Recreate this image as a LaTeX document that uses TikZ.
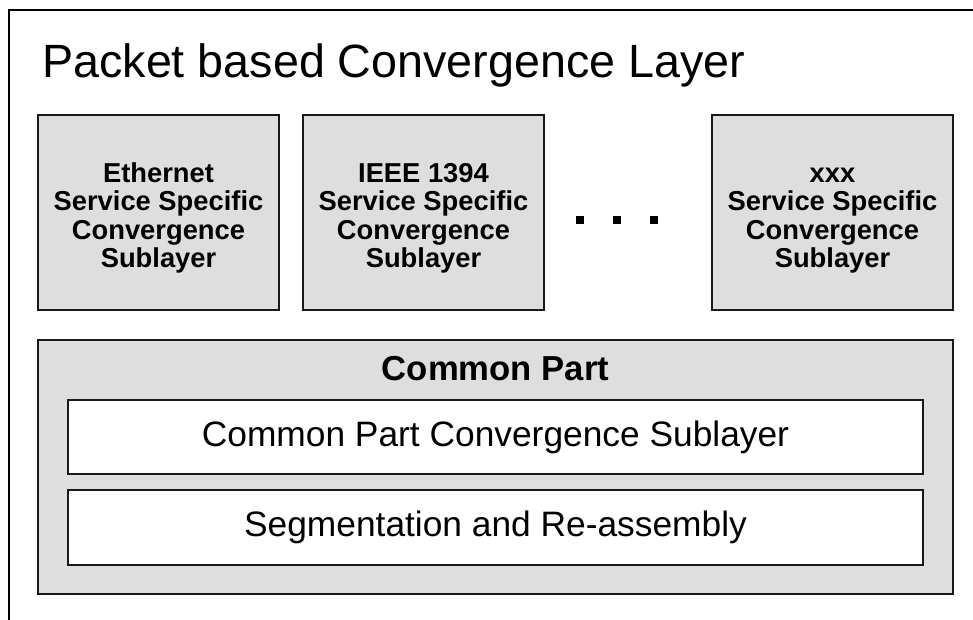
\documentclass[tikz,border=0pt]{standalone}
\usepackage{fontspec}
\setmainfont{Liberation Sans}
\begin{document}
\begin{tikzpicture}[x=0.75pt, y=-0.75pt,
  ssbox/.style={draw=black!90, line width=1.5pt, fill=black!13, rectangle, minimum width=180.75pt, minimum height=146.25pt, inner sep=0pt},
  sstext/.style={align=center, inner sep=0pt, font=\fontsize{20.5}{21.3}\selectfont\bfseries},
  cpbox/.style={draw=black!90, line width=1.5pt, fill=black!13, rectangle, minimum width=686.25pt, minimum height=190.5pt, inner sep=0pt},
  subbox/.style={draw=black!90, line width=1.5pt, fill=white, rectangle, minimum width=641.25pt, inner sep=0pt, font=\fontsize{26.5}{28}\selectfont}]
\useasboundingbox (0,0) rectangle (973,620);

% Outer frame (cut off at right and bottom)
\coordinate (fbl) at (9,622);
\coordinate (ftl) at (9,10);
\coordinate (ftr) at (975,10);
\draw[line width=1.5pt] (fbl) -- (ftl) -- (ftr);
\node[anchor=base west, inner sep=0pt, font=\fontsize{35}{40}\selectfont] (title) at (42,78) {Packet based Convergence Layer};

% Service specific sublayers
\node[ssbox] (eth) at (158.5,212.5) {};
\node[ssbox] (ieee) at (423.5,212.5) {};
\node[ssbox] (xxx) at (832.5,212.5) {};
\node[sstext] (ethtxt) at ([yshift=-4pt]eth.center) {\strut Ethernet\\Service Specific\\Convergence\\Sublayer};
\node[sstext] (ieeetxt) at ([yshift=-4pt]ieee.center) {\strut IEEE 1394\\Service Specific\\Convergence\\Sublayer};
\node[sstext] (xxxtxt) at ([yshift=-4pt]xxx.center) {\strut xxx\\Service Specific\\Convergence\\Sublayer};

% Dots
\foreach \i/\x in {1/580, 2/617, 3/654}
  \node[fill=black, rectangle, minimum size=6pt, inner sep=0pt] (dot\i) at (\x,220) {};

% Common Part
\node[cpbox] (common) at (495.5,467) {};
\node[font=\fontsize{26}{28}\selectfont\bfseries] (cptitle) at (495.5,369) {Common Part};
\node[subbox, minimum height=55.5pt] (cpcs) at (495.5,437) {Common Part Convergence Sublayer};
\node[subbox, minimum height=56.25pt] (sar) at (495.5,527) {Segmentation and Re-assembly};
\end{tikzpicture}
\end{document}
